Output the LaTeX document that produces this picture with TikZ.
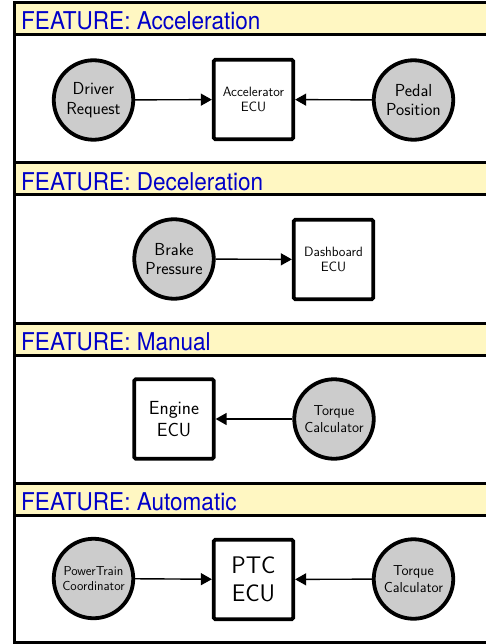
\documentclass[tikz,border=0pt]{standalone}
\usepackage{fontspec}
\newfontfamily\hdrfont[FakeStretch=0.92]{TeX Gyre Heros}
\usetikzlibrary{arrows.meta}
\definecolor{hdrfill}{HTML}{FFF7C2}
\definecolor{hdrtext}{HTML}{0000C8}
\definecolor{circfill}{HTML}{CCCCCC}
\tikzset{
  frameline/.style={line width=3pt},
  hdrbar/.style={frameline, fill=hdrfill},
  hdrlabel/.style={anchor=base west, inner sep=0pt, text=hdrtext,
    font=\hdrfont\fontsize{24.5}{28}\selectfont},
  sig/.style={circle, draw, line width=3.8pt, fill=circfill, minimum size=79.5pt,
    inner sep=0pt, align=center},
  ecu/.style={rectangle, draw, line width=3.8pt, fill=white, minimum size=79.5pt,
    inner sep=0pt, align=center, rounded corners=1.5pt},
  flow/.style={line width=1.4pt, -{Triangle[length=11pt,width=12pt]}},
  fA/.style={font=\sffamily\fontsize{17.4}{19.5}\selectfont},
  fB/.style={font=\sffamily\fontsize{13.5}{15.5}\selectfont},
  fC/.style={font=\sffamily\fontsize{14.4}{16.5}\selectfont},
  fD/.style={font=\sffamily\fontsize{13}{15}\selectfont},
  fE/.style={font=\sffamily\fontsize{19}{22.5}\selectfont},
  fF/.style={font=\sffamily\fontsize{24}{28.5}\selectfont},
}
\begin{document}
\begin{tikzpicture}[x=1pt,y=-1pt]
\clip (0,0) rectangle (486,644);
\fill[white] (0,0) rectangle (486,644);
% sections
\foreach \t/\b in {3/163, 163/323, 323/483, 483/642}{
  \draw[frameline] (14,\t) rectangle (520,\b);
  \filldraw[hdrbar] (14,\t) rectangle (520,\t+32);
}
\node[hdrlabel] (h1) at (21,30) {FEATURE: Acceleration};
\node[hdrlabel] (h2) at (21,190) {FEATURE: Deceleration};
\node[hdrlabel] (h3) at (21,350) {FEATURE: Manual};
\node[hdrlabel] (h4) at (21,510) {FEATURE: Automatic};
% panel 1
\node[sig, fA] (dr) at (93.5,100) {Driver\\Request};
\node[ecu, fB] (ae) at (253.5,99.5) {Accelerator\\ECU};
\node[sig, fA] (pp) at (413.5,100) {Pedal\\Position};
\draw[flow] (dr) -- (ae);
\draw[flow] (pp) -- (ae);
% panel 2
\node[sig, fA] (bp) at (174,259) {Brake\\Pressure};
\node[ecu, fB] (de) at (333.5,259.5) {Dashboard\\ECU};
\draw[flow] (bp) -- (de);
% panel 3
\node[ecu, fE] (ee) at (174,419) {Engine\\ECU};
\node[sig, fC] (tc) at (334,419) {Torque\\Calculator};
\draw[flow] (tc) -- (ee);
% panel 4
\node[sig, fD] (pc) at (93.5,578.5) {PowerTrain\\Coordinator};
\node[ecu, fF] (ptc) at (253.5,579.5) {PTC\\ECU};
\node[sig, fC] (tc2) at (413.5,579) {Torque\\Calculator};
\draw[flow] (pc) -- (ptc);
\draw[flow] (tc2) -- (ptc);
\end{tikzpicture}
\end{document}
